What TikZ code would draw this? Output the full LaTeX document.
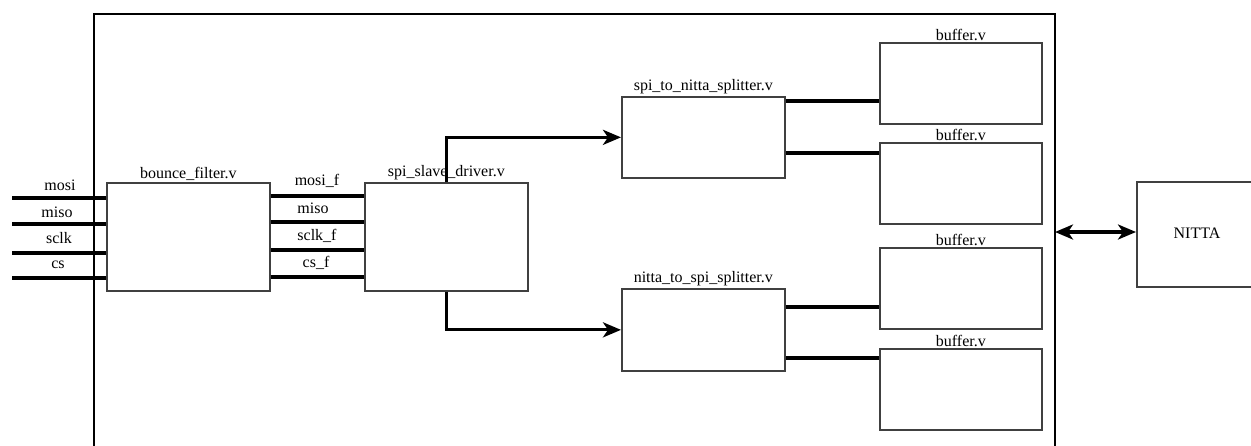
\documentclass[tikz,border=0pt]{standalone}
\usepackage{fontspec}
\setmainfont{Liberation Serif}
\usetikzlibrary{arrows.meta,calc}

\tikzset{
  block/.style={draw=black!75, line width=1.7pt, fill=white, anchor=north west,
                minimum width=163pt, inner sep=0pt},
  bufbox/.style={block, minimum width=162pt, minimum height=81pt},
  title/.style={above, inner sep=1.5pt, font=\fontsize{16}{18}\selectfont},
  sigtext/.style={inner sep=0pt, font=\fontsize{16}{18}\selectfont},
  sig/.style={line width=3.2pt},
  head/.tip={Stealth[length=18pt,width=15pt,inset=5pt]},
  tip/.style={-head},
  frame/.style={line width=1.8pt}
}

\begin{document}
\begin{tikzpicture}[x=1pt,y=-1pt]
\useasboundingbox (0,0) rectangle (1251,445);

% enclosing module frame (open at the bottom)
\draw[frame] (94,450) -- (94,14) -- (1055,14) -- (1055,450);
\coordinate (frameR) at (1055,232);

% modules
\node[block, minimum height=108pt] (bf)  at (106,182) {};
\node[title] at (bf.north) {bounce\_filter.v};

\node[block, minimum height=108pt] (ssd) at (364,182) {};
\node[title] at (ssd.north) {spi\_slave\_driver.v};

\node[block, minimum height=81pt] (stn) at (621,96) {};
\node[title] at (stn.north) {spi\_to\_nitta\_splitter.v};

\node[block, minimum height=82pt] (nts) at (621,288) {};
\node[title] at (nts.north) {nitta\_to\_spi\_splitter.v};

\node[bufbox] (b1) at (879,42)  {};
\node[title] at (b1.north) {buffer.v};
\node[bufbox] (b2) at (879,142) {};
\node[title] at (b2.north) {buffer.v};
\node[bufbox] (b3) at (879,247) {};
\node[title] at (b3.north) {buffer.v};
\node[bufbox] (b4) at (879,348) {};
\node[title] at (b4.north) {buffer.v};

\node[block, minimum width=122pt, minimum height=105pt] (nitta) at (1136,181) {};
\node[sigtext] (nittatxt) at (1197,233) {NITTA};

% external inputs
\coordinate (i0) at (12,198);
\coordinate (i1) at (12,224);
\coordinate (i2) at (12,253);
\coordinate (i3) at (12,278);
\draw[sig] (i0) -- (i0 -| bf.west);
\draw[sig] (i1) -- (i1 -| bf.west);
\draw[sig] (i2) -- (i2 -| bf.west);
\draw[sig] (i3) -- (i3 -| bf.west);
\node[sigtext] (lmosi) at (60,185) {mosi};
\node[sigtext] (lmiso) at (57,212) {miso};
\node[sigtext] (lsclk) at (59,238) {sclk};
\node[sigtext] (lcs)   at (58,265) {cs};

% filtered signals
\coordinate (f0) at ($(bf.north east)+(0,14)$);
\coordinate (f1) at ($(bf.north east)+(0,40)$);
\coordinate (f2) at ($(bf.north east)+(0,68)$);
\coordinate (f3) at ($(bf.north east)+(0,95)$);
\draw[sig] (f0) -- (f0 -| ssd.west);
\draw[sig] (f1) -- (f1 -| ssd.west);
\draw[sig] (f2) -- (f2 -| ssd.west);
\draw[sig] (f3) -- (f3 -| ssd.west);
\node[sigtext] (lmosif) at (317,181) {mosi\_f};
\node[sigtext] (lmisof) at (313,208) {miso};
\node[sigtext] (lsclkf) at (317,236) {sclk\_f};
\node[sigtext] (lcsf)   at (316,263) {cs\_f};

% driver to splitters
\draw[sig, tip] (ssd.north) |- (stn.west);
\draw[sig, tip] (ssd.south) |- (nts.west);

% splitters to buffers
\coordinate (s0) at ($(stn.north east)+(0,5)$);
\coordinate (s1) at ($(stn.north east)+(0,57)$);
\coordinate (s2) at ($(nts.north east)+(0,19)$);
\coordinate (s3) at ($(nts.north east)+(0,70)$);
\draw[sig] (s0) -- (s0 -| b1.west);
\draw[sig] (s1) -- (s1 -| b2.west);
\draw[sig] (s2) -- (s2 -| b3.west);
\draw[sig] (s3) -- (s3 -| b4.west);

% link to NITTA
\draw[sig, head-head] (frameR) -- (frameR -| nitta.west);
\end{tikzpicture}
\end{document}
